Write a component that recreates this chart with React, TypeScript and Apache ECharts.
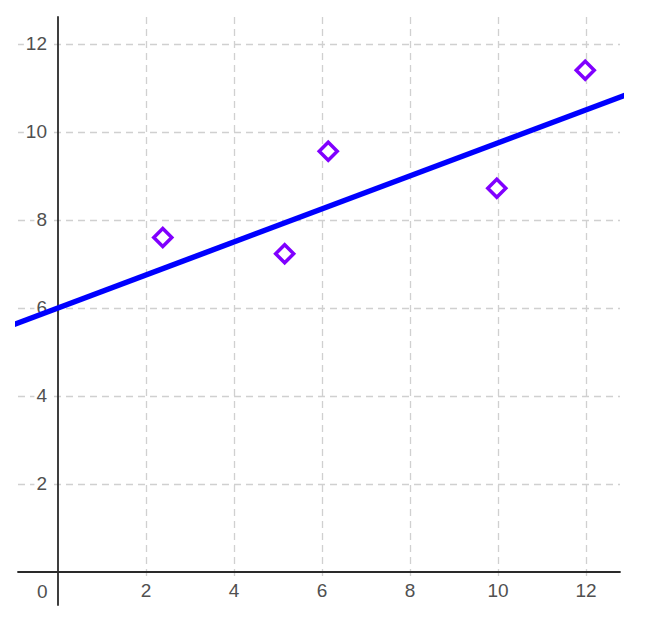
import React, { useEffect, useRef } from "react";
import * as echarts from "echarts";

const pointX = [2.38, 5.15, 6.14, 9.97, 11.98];
const pointY = [7.6, 7.23, 9.56, 8.72, 11.4];
const lineX = [-1, 13];
const lineY = [5.625, 10.875];
const tickValues = [2, 4, 6, 8, 10, 12];
const xRange = [-0.91, 12.77];
const yRange = [-0.75, 12.61];

const FONT = "'Liberation Sans', Arial, sans-serif";
const FS = 19;

export default function App() {
  const ref = useRef<HTMLDivElement>(null);
  useEffect(() => {
    if (!ref.current) return;
    const chart = echarts.init(ref.current, undefined, { renderer: "svg" });
    const labelStyle = {
      color: "#505050",
      fontSize: FS,
      fontFamily: FONT,
      backgroundColor: "#fff",
      padding: [1, 2],
      customValues: tickValues,
    };
    chart.setOption({
      animation: false,
      grid: {
        left: 18,
        right: 34,
        top: 17,
        bottom: 15,
        containLabel: false,
        outerBoundsMode: "none",
      },
      xAxis: {
        type: "value",
        min: xRange[0],
        max: xRange[1],
        axisLine: { onZero: true, lineStyle: { color: "#2a2a2a", width: 1.8 } },
        axisTick: { show: false, customValues: tickValues },
        axisLabel: { ...labelStyle, margin: -25 },
        splitLine: {
          show: true,
          lineStyle: { color: "#d0d0d0", type: [7, 5], width: 1.3 },
        },
      },
      yAxis: {
        type: "value",
        min: yRange[0],
        max: yRange[1],
        axisLine: { onZero: true, lineStyle: { color: "#2a2a2a", width: 1.8 } },
        axisTick: { show: false, customValues: tickValues },
        axisLabel: { ...labelStyle, margin: -31 },
        splitLine: {
          show: true,
          lineStyle: { color: "#d0d0d0", type: [7, 5], width: 1.3 },
        },
      },
      graphic: [
        {
          type: "text",
          left: 37,
          top: 582,
          style: { text: "0", fill: "#505050", font: `${FS}px ${FONT}` },
        },
      ],
      series: [
        {
          type: "line",
          data: lineX.map((x, i) => [x, lineY[i]]),
          symbol: "none",
          lineStyle: { color: "#0000ff", width: 5.5 },
          clip: true,
          z: 3,
        },
        {
          type: "scatter",
          data: pointX.map((x, i) => [x, pointY[i]]),
          symbol: "diamond",
          symbolSize: 18,
          itemStyle: { color: "#fff", borderColor: "#8000ff", borderWidth: 3.5, opacity: 1 },
          z: 4,
        },
      ],
    });
    return () => chart.dispose();
  }, []);
  return (
    <div
      ref={ref}
      style={{ position: "fixed", left: 0, top: 0, width: 654, height: 620, background: "#fff" }}
    />
  );
}
